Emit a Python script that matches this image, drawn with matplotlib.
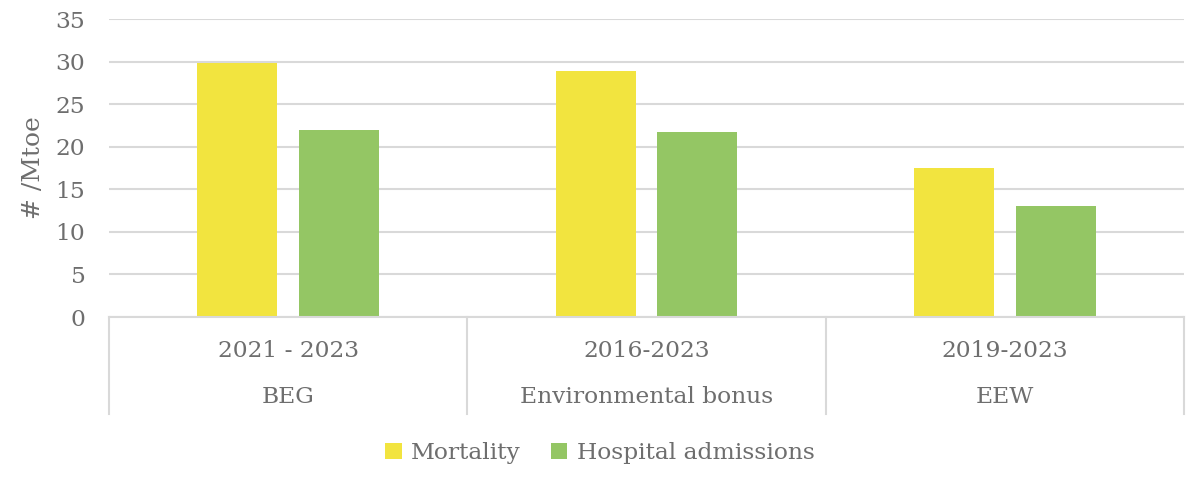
import matplotlib
matplotlib.use("Agg")
import matplotlib.pyplot as plt
import matplotlib.transforms as mtransforms
from matplotlib.patches import Patch
import numpy as np

periods = ["2021 - 2023", "2016-2023", "2019-2023"]
programmes = ["BEG", "Environmental bonus", "EEW"]
mortality = [29.8, 28.9, 17.5]
hospital = [22.0, 21.7, 13.0]
series_names = ["Mortality", "Hospital admissions"]
yticks = [0, 5, 10, 15, 20, 25, 30, 35]

YELLOW = "#F2E43F"
GREEN = "#94C664"
TEXT = "#6E6E6E"
GRID = "#D9D9D9"
FONT = "DejaVu Serif"
FS = 16.8

W, H = 1200, 479
fig = plt.figure(figsize=(W / 100, H / 100), dpi=100)
left, right, top, bottom = 109, 1184, 19, 317
ax = fig.add_axes([left / W, 1 - bottom / H, (right - left) / W, (bottom - top) / H])

x = np.arange(len(programmes))
bw = 0.223
off = 0.142
ax.bar(x - off, mortality, bw, color=YELLOW, zorder=3)
ax.bar(x + off, hospital, bw, color=GREEN, zorder=3)

ax.set_xlim(-0.5, len(programmes) - 0.5)
ax.set_ylim(0, 35)
ax.set_yticks(yticks)
ax.set_yticklabels([str(t) for t in yticks], family=FONT, fontsize=FS, color=TEXT)
ax.tick_params(axis="y", length=0, pad=17)
ax.tick_params(axis="x", length=0, labelbottom=False)
ax.yaxis.grid(True, color=GRID, linewidth=1.5, zorder=0)
for s in ["top", "right", "left"]:
    ax.spines[s].set_visible(False)
ax.spines["bottom"].set_color(GRID)
ax.spines["bottom"].set_linewidth(1.5)
ax.spines["bottom"].set_zorder(4)

ax.set_ylabel("# /Mtoe", family=FONT, fontsize=18, color=TEXT, labelpad=8)

trans = mtransforms.blended_transform_factory(ax.transData, ax.transAxes)
ph = bottom - top
sep_depth = (414 - bottom) / ph
for b in np.arange(-0.5, len(programmes), 1.0):
    ax.plot([b, b], [0, -sep_depth], transform=trans, color=GRID, lw=1.5, clip_on=False)
for i in range(len(programmes)):
    ax.text(x[i], -(351 - bottom) / ph, periods[i], transform=trans, ha="center", va="center",
            family=FONT, fontsize=FS, color=TEXT)
    ax.text(x[i], -(397 - bottom) / ph, programmes[i], transform=trans, ha="center", va="center",
            family=FONT, fontsize=FS, color=TEXT)

handles = [Patch(facecolor=YELLOW), Patch(facecolor=GREEN)]
fig.legend(handles, series_names, loc="center", bbox_to_anchor=(600 / W, 1 - 453 / H),
           ncol=2, frameon=False, prop={"family": FONT, "size": FS}, labelcolor=TEXT,
           handlelength=0.7, handleheight=0.7, handletextpad=0.4, columnspacing=1.3)

fig.savefig("out.png", dpi=100)
